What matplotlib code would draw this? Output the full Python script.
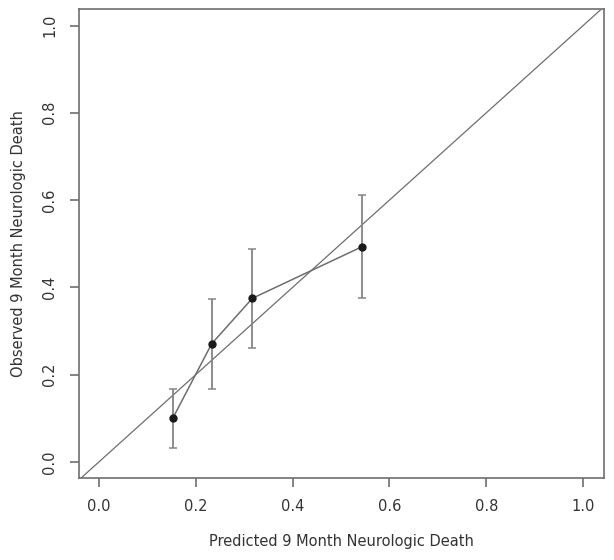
import matplotlib
matplotlib.use("Agg")
import matplotlib.pyplot as plt

# calibration groups: predicted vs observed, with confidence limits
predicted = [0.153, 0.233, 0.317, 0.543]
observed = [0.101, 0.271, 0.375, 0.493]
lower = [0.032, 0.167, 0.260, 0.376]
upper = [0.168, 0.374, 0.489, 0.611]
ticks = [0.0, 0.2, 0.4, 0.6, 0.8, 1.0]

gray = "#6e6e6e"

fig = plt.figure(figsize=(6.14, 5.6), dpi=100)
ax = fig.add_axes([0.1287, 0.147, 0.855, 0.8363])

# identity line
ax.axline((0, 0), (1, 1), color=gray, lw=0.9, zorder=1)

err_lo = [o - l for o, l in zip(observed, lower)]
err_hi = [u - o for o, u in zip(observed, upper)]
ax.errorbar(predicted, observed, yerr=[err_lo, err_hi], fmt="none",
            ecolor="#858585", elinewidth=1.3, capsize=3, capthick=1.1, zorder=2)
ax.plot(predicted, observed, color=gray, lw=1.1, zorder=3)
ax.plot(predicted, observed, "o", color="#1a1a1a", ms=5, zorder=4)

ax.set_xlim(-0.041, 1.043)
ax.set_ylim(-0.036, 1.037)
ax.set_xticks(ticks)
ax.set_yticks(ticks)
ax.set_xticklabels([f"{t:.1f}" for t in ticks])
ax.set_yticklabels([f"{t:.1f}" for t in ticks], rotation=90, va="center")

for s in ax.spines.values():
    s.set_color(gray)
    s.set_linewidth(1.2)
ax.tick_params(direction="out", length=6.5, width=1.2, color=gray,
               labelsize=10.5, labelcolor="#333333", pad=9)

ax.set_xlabel("Predicted 9 Month Neurologic Death", fontsize=10.5,
              color="#333333", labelpad=14)
ax.set_ylabel("Observed 9 Month Neurologic Death", fontsize=10.5,
              color="#333333", labelpad=12)

fig.savefig("out.png", dpi=100)
